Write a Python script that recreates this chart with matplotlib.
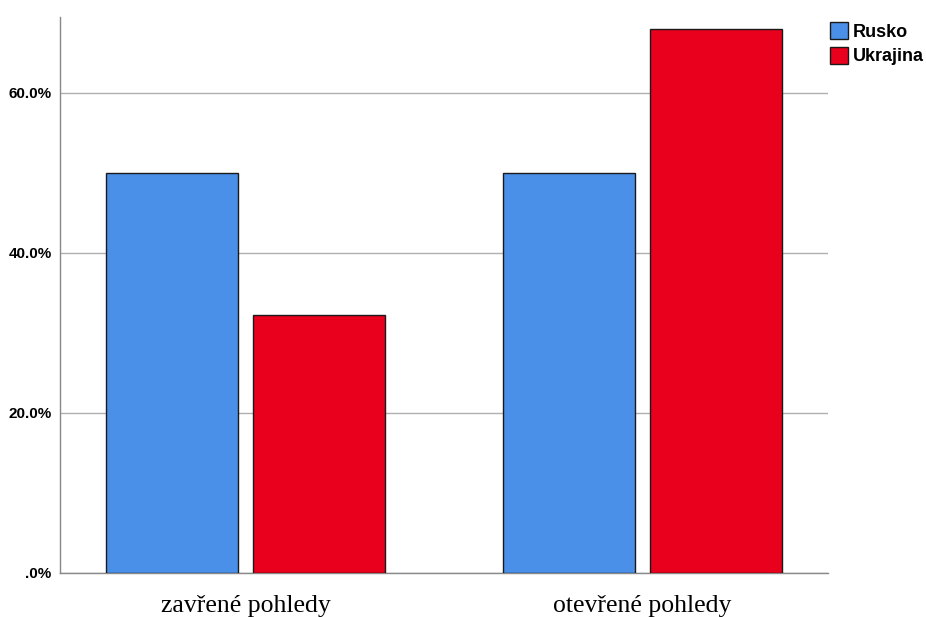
import matplotlib
matplotlib.use("Agg")
import matplotlib.pyplot as plt
from matplotlib.ticker import FuncFormatter
from matplotlib.patches import Patch

categories = ["zavřené pohledy", "otevřené pohledy"]
series = ["Rusko", "Ukrajina"]
rusko = [50.0, 50.0]
ukrajina = [32.2, 68.0]
colors = ["#4A90E8", "#E8001C"]
yticks = [0, 20, 40, 60]

fig = plt.figure(figsize=(9.26, 6.17), dpi=100)
ax = fig.add_axes([60/926, 44/617, 768/926, 556/617])

x = [0, 1]
w = 0.3325
off = 0.185
for i, (vals, c) in enumerate(zip([rusko, ukrajina], colors)):
    pos = [xi + (-off if i == 0 else off) for xi in x]
    ax.bar(pos, vals, width=w, color=c, edgecolor="#1a1a1a", linewidth=1.0, zorder=3, label=series[i])

ax.set_xlim(-0.467, 1.467)
ax.set_ylim(0, 69.5)
ax.set_yticks(yticks)
ax.yaxis.set_major_formatter(FuncFormatter(lambda v, p: ".0%" if v == 0 else f"{v:.1f}%"))
ax.grid(axis="y", color="#b0b0b0", linewidth=1.0, zorder=0)
ax.set_axisbelow(True)
ax.tick_params(axis="y", length=0, pad=6, labelsize=11)
for lab in ax.get_yticklabels():
    lab.set_fontweight("bold")
    lab.set_fontfamily("Liberation Sans")
ax.set_xticks(x)
ax.set_xticklabels(categories, fontfamily="Liberation Serif", fontsize=18.5)
ax.tick_params(axis="x", length=0, pad=16)

for s in ["top", "right"]:
    ax.spines[s].set_visible(False)
for s in ["left", "bottom"]:
    ax.spines[s].set_color("#888888")
    ax.spines[s].set_linewidth(1.0)

handles = [Patch(facecolor=c, edgecolor="#1a1a1a", label=s) for c, s in zip(colors, series)]
leg = fig.legend(handles=handles, loc="upper left", bbox_to_anchor=(830/926, 1 - 22/617),
                 frameon=False, prop={"family": "Liberation Sans", "weight": "bold", "size": 13},
                 handlelength=1.0, handleheight=1.05, handletextpad=0.25, labelspacing=0.35,
                 borderaxespad=0, borderpad=0)

fig.savefig("out.png", dpi=100)
